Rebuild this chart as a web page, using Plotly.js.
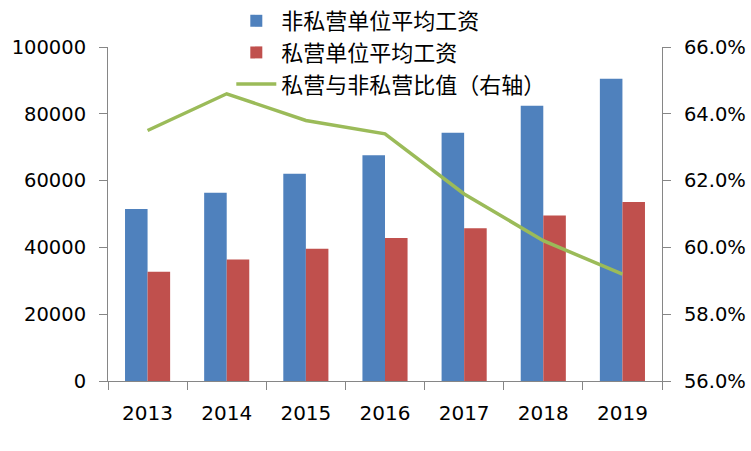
<!DOCTYPE html>
<html>
<head>
<meta charset="utf-8">
<script src="https://cdn.plot.ly/plotly-3.0.1.min.js"></script>
<style>html,body{margin:0;padding:0;background:#fff;}#chart{width:751px;height:451px;}</style>
</head>
<body>
<div id="chart"></div>
<script>
const years = ['2013','2014','2015','2016','2017','2018','2019'];
const nonPrivateWage = [51483, 56360, 62029, 67569, 74318, 82413, 90501];
const privateWage = [32706, 36390, 39589, 42833, 45761, 49575, 53604];
const ratio = [0.635, 0.646, 0.638, 0.634, 0.616, 0.602, 0.592];
const seriesNames = ['非私营单位平均工资', '私营单位平均工资', '私营与非私营比值（右轴）'];

const numFont = {family: '"DejaVu Sans", sans-serif', size: 19.5, color: '#000'};
const xFont = {family: '"DejaVu Sans", sans-serif', size: 20, color: '#000'};
const cjkFont = {family: '"Noto Sans CJK SC", sans-serif', size: 22, color: '#000'};

const traces = [
  {type: 'bar', x: years, y: nonPrivateWage, name: seriesNames[0], marker: {color: '#4F81BD'}},
  {type: 'bar', x: years, y: privateWage, name: seriesNames[1], marker: {color: '#C0504D'}},
  {type: 'scatter', mode: 'lines', x: years, y: ratio, name: seriesNames[2], yaxis: 'y2',
   line: {color: '#9BBB59', width: 3.5}}
];

const layout = {
  width: 751, height: 451,
  margin: {l: 108, r: 89, t: 47, b: 70, autoexpand: false},
  paper_bgcolor: '#fff', plot_bgcolor: '#fff',
  barmode: 'group', bargap: 0.43, bargroupgap: 0,
  showlegend: true,
  legend: {xref: 'container', yref: 'container', x: 0.308, y: 1, xanchor: 'left', yanchor: 'top',
    font: cjkFont, bgcolor: 'rgba(0,0,0,0)', tracegroupgap: 0, itemwidth: 40},
  xaxis: {type: 'category', showline: true, linecolor: '#868686', linewidth: 1,
    ticks: 'outside', tickson: 'boundaries', ticklen: 8, tickcolor: '#868686',
    tickfont: xFont, tickangle: 0, ticklabelstandoff: 14, showgrid: false, zeroline: false},
  yaxis: {range: [0, 100000], dtick: 20000, showline: true, linecolor: '#868686', linewidth: 1,
    ticks: 'outside', ticklen: 8, tickcolor: '#868686', tickfont: numFont, ticklabelstandoff: 9,
    showgrid: false, zeroline: false, tickformat: 'd'},
  yaxis2: {overlaying: 'y', side: 'right', range: [0.56, 0.66], dtick: 0.02, tickformat: '.1%',
    showline: true, linecolor: '#868686', linewidth: 1, ticks: 'outside', ticklen: 8,
    tickcolor: '#868686', tickfont: numFont, ticklabelstandoff: 9, showgrid: false, zeroline: false}
};

Plotly.newPlot('chart', traces, layout, {displayModeBar: false, staticPlot: true});
</script>
</body>
</html>
